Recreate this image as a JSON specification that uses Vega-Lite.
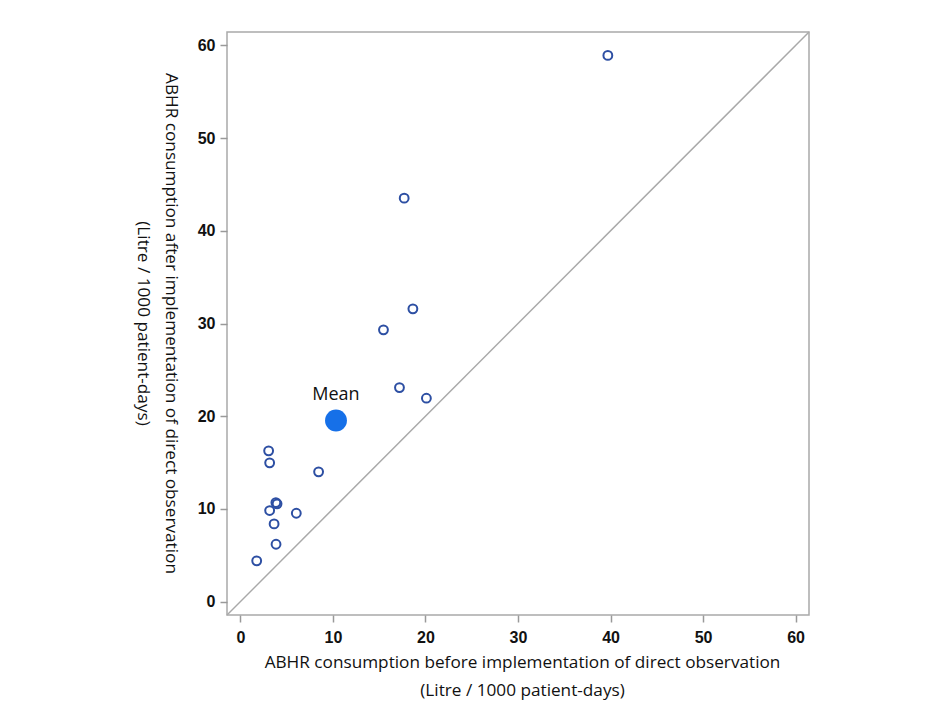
{
  "$schema": "https://vega.github.io/schema/vega-lite/v6.json",
  "width": 582,
  "height": 583,
  "autosize": "none",
  "padding": {"left": 227, "top": 32, "right": 136, "bottom": 97},
  "background": "white",
  "config": {
    "view": {"stroke": "#a9a9a9", "strokeWidth": 1.5},
    "font": "Open Sans",
    "axis": {
      "domain": false,
      "grid": false,
      "ticks": true,
      "tickColor": "#999999",
      "tickSize": 7,
      "tickWidth": 1.5,
      "labelFont": "Liberation Sans",
      "labelFontWeight": "bold",
      "labelFontSize": 16,
      "labelColor": "#111111",
      "labelFlush": false,
      "labelOverlap": false,
      "titleFont": "Open Sans",
      "titleFontSize": 17.2,
      "titleFontWeight": "normal",
      "titleColor": "#111111",
      "titleLineHeight": 28
    }
  },
  "datasets": {
    "points": [
      {"before": 39.71, "after": 58.92},
      {"before": 17.70, "after": 43.52},
      {"before": 18.64, "after": 31.58},
      {"before": 15.46, "after": 29.32},
      {"before": 17.19, "after": 23.09},
      {"before": 20.10, "after": 21.94},
      {"before": 3.05, "after": 16.26},
      {"before": 3.16, "after": 14.97},
      {"before": 8.45, "after": 14.00},
      {"before": 3.96, "after": 10.54},
      {"before": 3.83, "after": 10.68},
      {"before": 3.16, "after": 9.82},
      {"before": 6.04, "after": 9.53},
      {"before": 3.64, "after": 8.38},
      {"before": 3.85, "after": 6.18},
      {"before": 1.76, "after": 4.39}
    ],
    "mean": [{"before": 10.33, "after": 19.53, "label": "Mean"}],
    "diag": [{"before": -1.45, "after": -1.45}, {"before": 61.45, "after": 61.45}]
  },
  "layer": [
    {
      "data": {"name": "diag"},
      "mark": {"type": "line", "color": "#a9a9a9", "strokeWidth": 1.5},
      "encoding": {
        "x": {
          "field": "before", "type": "quantitative",
          "scale": {"domain": [-1.45, 61.45], "nice": false, "zero": false},
          "axis": {
            "values": [0, 10, 20, 30, 40, 50, 60],
            "labelPadding": 7,
            "title": ["ABHR consumption before implementation of direct observation", "(Litre / 1000 patient-days)"],
            "titleX": 295,
            "titleY": 38,
            "titleAlign": "center",
            "titleBaseline": "top"
          }
        },
        "y": {
          "field": "after", "type": "quantitative",
          "scale": {"domain": [-1.45, 61.45], "nice": false, "zero": false},
          "axis": {
            "values": [0, 10, 20, 30, 40, 50, 60],
            "labelPadding": 5,
            "title": ["ABHR consumption after implementation of direct observation", "(Litre / 1000 patient-days)"],
            "titleAngle": 90,
            "titleX": -48,
            "titleY": 291,
            "titleAlign": "center",
            "titleBaseline": "top"
          }
        }
      }
    },
    {
      "data": {"name": "points"},
      "mark": {"type": "point", "shape": "circle", "filled": false, "size": 78, "strokeWidth": 2, "color": "#2d4fa3", "opacity": 1},
      "encoding": {
        "x": {"field": "before", "type": "quantitative"},
        "y": {"field": "after", "type": "quantitative"}
      }
    },
    {
      "data": {"name": "mean"},
      "mark": {"type": "circle", "size": 480, "color": "#1670e8", "opacity": 1},
      "encoding": {
        "x": {"field": "before", "type": "quantitative"},
        "y": {"field": "after", "type": "quantitative"}
      }
    },
    {
      "data": {"name": "mean"},
      "mark": {"type": "text", "dy": -26, "fontSize": 18, "font": "Open Sans", "color": "#111111"},
      "encoding": {
        "x": {"field": "before", "type": "quantitative"},
        "y": {"field": "after", "type": "quantitative"},
        "text": {"field": "label"}
      }
    }
  ]
}
